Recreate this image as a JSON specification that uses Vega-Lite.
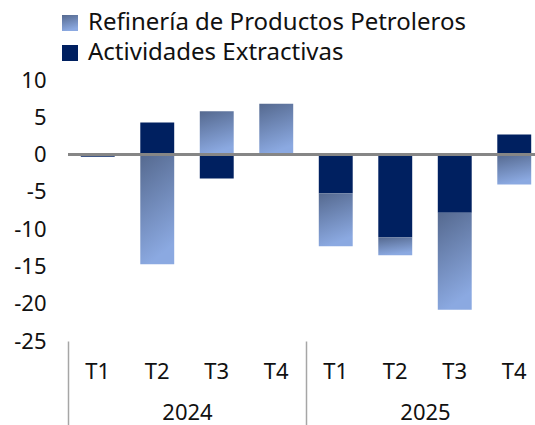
{
  "$schema": "https://vega.github.io/schema/vega-lite/v6.json",
  "autosize": {"type": "none"},
  "width": 467,
  "height": 261,
  "padding": {"left": 68, "top": 80, "right": 0, "bottom": 84},
  "background": "white",
  "config": {
    "view": {"stroke": null},
    "font": "Noto Sans",
    "axis": {"labelFont": "Noto Sans", "labelColor": "#111111"}
  },
  "data": {
    "values": [
      {"anio": "2024", "periodo": "2024-T1", "serie": "Actividades Extractivas", "valor": -0.3},
      {"anio": "2024", "periodo": "2024-T1", "serie": "Refinería de Productos Petroleros", "valor": 0.0},
      {"anio": "2024", "periodo": "2024-T2", "serie": "Actividades Extractivas", "valor": 4.3},
      {"anio": "2024", "periodo": "2024-T2", "serie": "Refinería de Productos Petroleros", "valor": -14.7},
      {"anio": "2024", "periodo": "2024-T3", "serie": "Actividades Extractivas", "valor": -3.2},
      {"anio": "2024", "periodo": "2024-T3", "serie": "Refinería de Productos Petroleros", "valor": 5.8},
      {"anio": "2024", "periodo": "2024-T4", "serie": "Actividades Extractivas", "valor": 0.0},
      {"anio": "2024", "periodo": "2024-T4", "serie": "Refinería de Productos Petroleros", "valor": 6.8},
      {"anio": "2025", "periodo": "2025-T1", "serie": "Actividades Extractivas", "valor": -5.2},
      {"anio": "2025", "periodo": "2025-T1", "serie": "Refinería de Productos Petroleros", "valor": -7.1},
      {"anio": "2025", "periodo": "2025-T2", "serie": "Actividades Extractivas", "valor": -11.1},
      {"anio": "2025", "periodo": "2025-T2", "serie": "Refinería de Productos Petroleros", "valor": -2.4},
      {"anio": "2025", "periodo": "2025-T3", "serie": "Actividades Extractivas", "valor": -7.8},
      {"anio": "2025", "periodo": "2025-T3", "serie": "Refinería de Productos Petroleros", "valor": -13.0},
      {"anio": "2025", "periodo": "2025-T4", "serie": "Actividades Extractivas", "valor": 2.7},
      {"anio": "2025", "periodo": "2025-T4", "serie": "Refinería de Productos Petroleros", "valor": -4.0}
    ]
  },
  "transform": [
    {"stack": "valor", "groupby": ["periodo"], "sort": [{"field": "serie", "order": "ascending"}], "offset": "zero", "as": ["v0", "v1"]}
  ],
  "layer": [
    {
      "mark": {
        "type": "bar",
        "color": {"expr": "(datum.serie || datum.value) === 'Refinería de Productos Petroleros' ? {gradient: 'linear', x1: 0, y1: 0, x2: 0.25, y2: 1, stops: [{offset: 0, color: '#55698f'}, {offset: 1, color: '#8ba9e1'}]} : '#002060'"}
      },
      "encoding": {
        "x": {
          "field": "periodo",
          "type": "nominal",
          "sort": null,
          "scale": {"range": [0, 476], "paddingInner": 0.43, "paddingOuter": 0.215},
          "axis": {
            "title": null,
            "orient": "bottom",
            "domain": false,
            "ticks": false,
            "labelAngle": 0,
            "labelFontSize": 22,
            "labelPadding": 20,
            "labelExpr": "slice(datum.label, 5)"
          }
        },
        "y": {
          "field": "v0",
          "type": "quantitative",
          "scale": {"domain": [-25, 10], "nice": false, "zero": false},
          "axis": {
            "title": null,
            "values": [-25, -20, -15, -10, -5, 0, 5, 10],
            "tickCount": 12,
            "labelExpr": "datum.value < 0 ? '-' + abs(datum.value) : '' + datum.value",
            "labelOverlap": false,
            "domain": false,
            "ticks": false,
            "grid": false,
            "labelFontSize": 22,
            "labelPadding": 22
          }
        },
        "y2": {"field": "v1"},
        "opacity": {
          "field": "serie",
          "type": "nominal",
          "scale": {
            "domain": ["Refinería de Productos Petroleros", "Actividades Extractivas"],
            "range": [1, 1]
          },
          "legend": {
            "title": null,
            "orient": "none",
            "legendX": -10,
            "legendY": -69,
            "padding": 0,
            "symbolType": "square",
            "symbolSize": 256,
            "symbolStrokeWidth": 0,
            "labelFontSize": 24,
            "labelFont": "Noto Sans",
            "labelColor": "#111111",
            "labelOffset": 6,
            "rowPadding": 6,
            "labelLimit": 500
          }
        }
      }
    },
    {
      "mark": {"type": "rule", "color": "#868686", "strokeWidth": 2},
      "encoding": {"y": {"datum": 0}}
    },
    {
      "mark": {"type": "tick", "opacity": 0},
      "encoding": {
        "x": {
          "field": "anio",
          "type": "nominal",
          "scale": {"range": [0, 476], "paddingInner": 0, "paddingOuter": 0},
          "axis": {
            "title": null,
            "orient": "bottom",
            "domain": false,
            "ticks": true,
            "tickBand": "extent",
            "tickSize": 84,
            "tickColor": "#a6a6a6",
            "tickWidth": 1.5,
            "labelAngle": 0,
            "labelFontSize": 22,
            "labelPadding": -23
          }
        }
      }
    }
  ],
  "resolve": {"scale": {"x": "independent"}, "axis": {"x": "independent"}}
}
